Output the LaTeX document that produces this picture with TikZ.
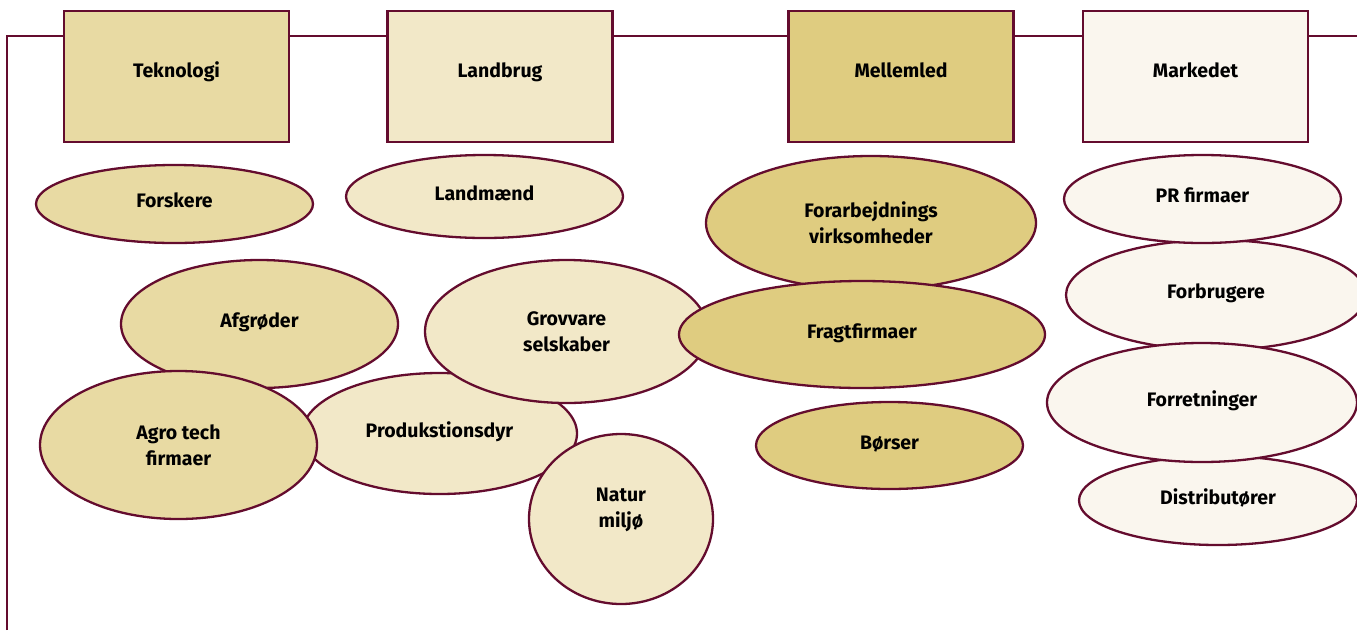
\documentclass[tikz,border=0pt]{standalone}
\usepackage{fontspec}
\setmainfont{Fira Sans}
\usetikzlibrary{shapes.geometric}
\definecolor{rim}{HTML}{640C2E}
\definecolor{tekno}{HTML}{E8DAA3}
\definecolor{land}{HTML}{F2E8C8}
\definecolor{mellem}{HTML}{DFCC80}
\definecolor{marked}{HTML}{FAF6EE}
\begin{document}
\begin{tikzpicture}[x=1pt,y=-1pt,line width=2.3pt,
  head/.style={draw=rim,rectangle,inner sep=0pt,minimum width=225pt,minimum height=131pt,
    text height=13pt,text depth=11pt,font=\bfseries\fontsize{19.5}{26}\selectfont},
  blob/.style={draw=rim,ellipse,inner sep=0pt,align=center,font=\bfseries\fontsize{19.5}{26}\selectfont},
  single/.style={blob,text height=13pt,text depth=6pt}]
\path[use as bounding box] (0,0) rectangle (1357,630);
% frame line
\coordinate (start) at (7,630);
\coordinate (end) at (1360,36);
\draw[rim] (start) |- (end);
% column heads
\node[head,fill=tekno] (teknologi) at (176.5,76.5) {Teknologi};
\node[head,fill=land] (landbrug) at (500,76.5) {Landbrug};
\node[head,fill=mellem] (mellemled) at (901,76.5) {Mellemled};
\node[head,fill=marked] (markedet) at (1195.5,76.5) {Markedet};
% teknologi / landbrug
\node[single,fill=tekno,minimum width=277pt,minimum height=78pt] (forskere) at (174.5,204) {Forskere};
\node[single,fill=land,minimum width=277pt,minimum height=83pt] (landmaend) at (484.5,196.5) {Landmænd};
\node[single,fill=tekno,minimum width=277pt,minimum height=128pt] (afgroeder) at (259.5,324) {Afgrøder};
\node[single,fill=land,minimum width=275pt,minimum height=121pt] (dyr) at (439.5,433.5) {Produkstionsdyr};
\node[blob,fill=tekno,minimum width=277pt,minimum height=148pt] (agrotech) at (178.5,445) {Agro tech\\firmaer};
\node[blob,fill=land,minimum width=283pt,minimum height=143pt] (grovvare) at (566.5,331.5) {Grovvare\\selskaber};
\node[blob,fill=land,minimum width=184pt,minimum height=170pt,text depth=22pt] (natur) at (621,519) {Natur\\miljø};
% mellemled
\node[blob,fill=mellem,minimum width=330pt,minimum height=134pt] (forarb) at (871,223) {Forarbejdnings\\virksomheder};
\node[single,fill=mellem,minimum width=366pt,minimum height=107pt] (fragt) at (862,334.5) {Fragtfirmaer};
\node[single,fill=mellem,minimum width=267pt,minimum height=87pt] (boerser) at (889.5,445.5) {Børser};
% markedet
\node[single,fill=marked,minimum width=300pt,minimum height=110pt] (forbrugere) at (1216,295) {Forbrugere};
\node[single,fill=marked,minimum width=277pt,minimum height=88pt] (pr) at (1202.5,199) {PR firmaer};
\node[single,fill=marked,minimum width=278pt,minimum height=89pt] (distrib) at (1218,500.5) {Distributører};
\node[single,fill=marked,minimum width=310pt,minimum height=119pt] (forretn) at (1202,402.5) {Forretninger};
\end{tikzpicture}
\end{document}
